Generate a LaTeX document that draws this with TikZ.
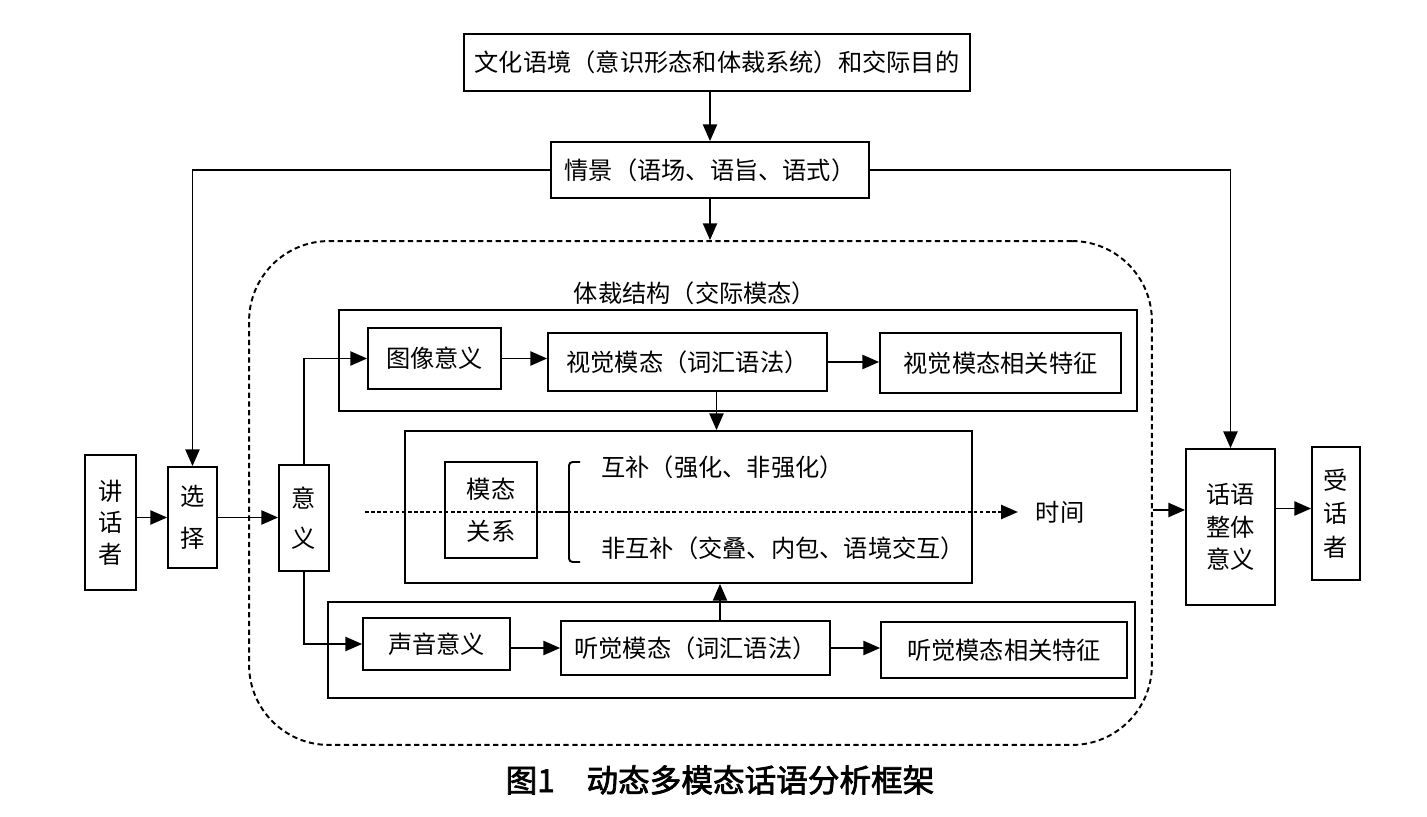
\documentclass[tikz,border=0pt]{standalone}
\usepackage{fontspec}
\setmainfont{Noto Sans CJK SC}
\newfontfamily\capfont[FakeBold=2.2]{Noto Sans CJK SC}
\usetikzlibrary{arrows.meta,calc}
\begin{document}
\begin{tikzpicture}[x=0.02cm,y=-0.02cm,
  every node/.style={font=\fontsize{13.8}{16}\selectfont, inner sep=0pt},
  box/.style={draw, line width=1pt, align=center},
  frame/.style={draw, line width=1pt},
  arr/.style={line width=1.1pt, -{Triangle[length=9.5pt,width=8pt]}},
  region/.style={draw, line width=1.1pt, dash pattern=on 3pt off 2pt, rounded corners=1.6cm},
  timeline/.style={line width=1pt, dash pattern=on 2pt off 1.5pt, -{Triangle[length=9.5pt,width=8pt]}}]
\useasboundingbox (0,0) rectangle (1427,817);

% top and situation
\node[box, minimum width=10.12cm, minimum height=1.14cm] (top) at (717,62.5) {文化语境（意识形态和体裁系统）和交际目的};
\node[box, minimum width=6.36cm, minimum height=1.12cm] (qj) at (710,170) {情景（语场、语旨、语式）};

% genre region
\node[region, minimum width=18.06cm, minimum height=10.08cm] (genre) at (700.5,493) {};
\node (genrelabel) at (695,293) {体裁结构（交际模态）};

% upper row
\node[frame, minimum width=15.96cm, minimum height=2.02cm] (upper) at (738,360.5) {};
\node[box, minimum width=2.66cm, minimum height=1.22cm] (txyy) at (434.5,358.5) {图像意义};
\node[box, minimum width=5.58cm, minimum height=1.16cm] (sjmt) at (687.5,362) {视觉模态（词汇语法）};
\node[box, minimum width=4.82cm, minimum height=1.2cm] (sjtz) at (1000.5,363) {视觉模态相关特征};

% middle box
\node[frame, minimum width=11.34cm, minimum height=3.04cm] (middle) at (688.5,507) {};
\node[box, minimum width=1.84cm, minimum height=1.92cm, font=\fontsize{13.8}{24}\selectfont] (mtgx) at (491,510) {模态\\关系};
\node[anchor=west] (hb) at (601,467) {互补（强化、非强化）};
\node[anchor=west] (fhb) at (601,548) {非互补（交叠、内包、语境交互）};
\draw[line width=1.1pt, rounded corners=2pt] (580,462) -- (569,462) -- (569,562) -- (580,562);
\draw[line width=1.1pt] (555,512) -- (569,512);

% lower row
\node[frame, minimum width=16.14cm, minimum height=1.92cm] (lower) at (731.5,650) {};
\node[box, minimum width=2.94cm, minimum height=1.04cm] (syyy) at (436.5,644) {声音意义};
\node[box, minimum width=5.38cm, minimum height=1.08cm] (tjmt) at (695.5,648) {听觉模态（词汇语法）};
\node[box, minimum width=4.92cm, minimum height=1.12cm] (tjtz) at (1004,650) {听觉模态相关特征};

% left side
\node[box, minimum width=1.02cm, minimum height=2.7cm, font=\fontsize{13.8}{18}\selectfont] (jhz) at (110.5,522.5) {讲\\话\\者};
\node[box, minimum width=0.98cm, minimum height=2.02cm, font=\fontsize{13.8}{23.5}\selectfont] (xz) at (192.5,517.5) {选\\择};
\node[box, minimum width=1.0cm, minimum height=2.12cm, font=\fontsize{13.8}{22.5}\selectfont] (yy) at (304,518) {意\\义};

% right side
\node[box, minimum width=1.78cm, minimum height=3.12cm, font=\fontsize{13.8}{18.5}\selectfont] (hy) at (1230.5,527) {话语\\整体\\意义};
\node[box, minimum width=0.96cm, minimum height=2.66cm, font=\fontsize{13.8}{19}\selectfont] (shz) at (1336,513.5) {受\\话\\者};

% time line
\coordinate (tstart) at (365,512);
\node (time) at (1060,512) {时间};
\draw[timeline] (tstart) -- ([xshift=-0.35cm]time.west);

% connectors
\draw[arr] (top.south -| qj.north) -- (qj.north);
\draw[arr] (qj.west) -| (xz.north);
\draw[arr] (qj.east) -| (hy.north);
\draw[arr] (qj.south) -- (qj.south |- genre.north);
\draw[arr] (jhz.east |- xz) -- (xz.west);
\draw[arr] (xz.east) -- (yy.west |- xz.east);
\draw[arr] (yy.north) |- (txyy.west);
\draw[arr] (yy.south) |- (syyy.west);
\draw[arr] (txyy.east) -- (sjmt.west |- txyy.east);
\draw[arr] (sjmt.east) -- (sjtz.west |- sjmt.east);
\draw[arr] ([xshift=0.58cm]sjmt.south) -- ([xshift=0.58cm]sjmt.south |- middle.north);
\draw[arr] (syyy.east |- tjmt) -- (tjmt.west);
\draw[arr] (tjmt.east) -- (tjtz.west |- tjmt.east);
\draw[arr] ([xshift=0.49cm]tjmt.north) -- ([xshift=0.49cm]tjmt.north |- middle.south);
\draw[arr] ([yshift=-0.34cm]genre.east) -- ([yshift=-0.34cm]genre.east -| hy.west);
\draw[arr] ([yshift=0.1cm]shz.west -| hy.east) -- ([yshift=0.1cm]shz.west);

% caption
\node[font=\fontsize{18}{20}\capfont] (caption) at (720,780) {图1\quad 动态多模态话语分析框架};
\end{tikzpicture}
\end{document}
